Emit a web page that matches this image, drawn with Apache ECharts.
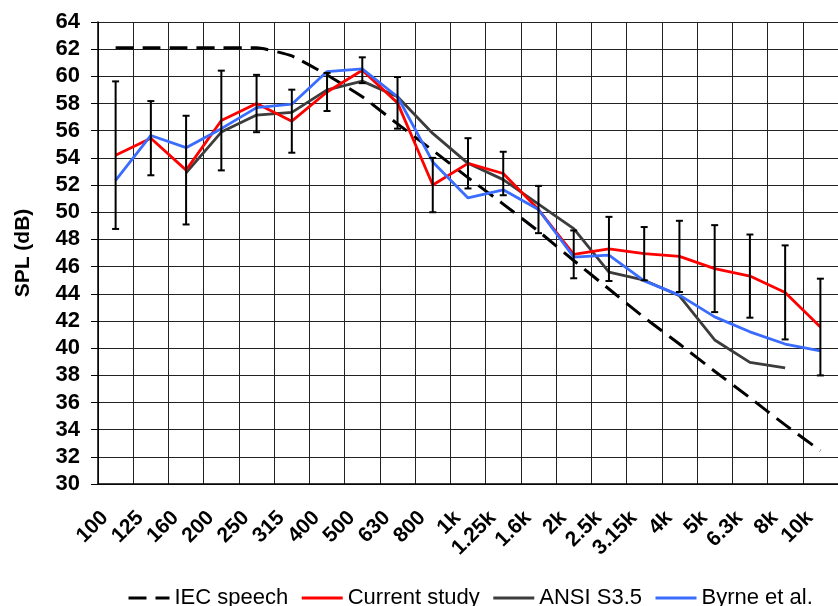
<!DOCTYPE html>
<html>
<head>
<meta charset="utf-8">
<title>Speech spectrum SPL by 1/3-octave band</title>
<script src="https://cdn.jsdelivr.net/npm/echarts@6/dist/echarts.min.js"></script>
<style>
  html, body { margin: 0; padding: 0; background: #fff; }
  #chart { width: 838px; height: 606px; }
</style>
</head>
<body>
<div id="chart"></div>
<script>
// 1/3-octave band centre frequencies (Hz)
const bands = ['100', '125', '160', '200', '250', '315', '400', '500', '630', '800',
  '1k', '1.25k', '1.6k', '2k', '2.5k', '3.15k', '4k', '5k', '6.3k', '8k', '10k'];

// Band levels, dB SPL
const iecSpeech = [62.1, 62.1, 62.1, 62.1, 62.1, 61.5, 60.1, 58.5, 56.5, 54.55,
  52.55, 50.6, 48.6, 46.45, 44.35, 42.25, 40.3, 38.3, 36.35, 34.35, 32.45];
const currentStudy = [54.2, 55.45, 53.1, 56.75, 58.0, 56.7, 58.85, 60.45, 58.05, 52.0,
  53.6, 52.85, 50.2, 46.9, 47.3, 46.95, 46.75, 45.85, 45.3, 44.1, 41.55];
const currentSD = [5.43, 2.73, 4.0, 3.67, 2.11, 2.32, 1.4, 0.95, 1.9, 2.0,
  1.85, 1.6, 1.74, 1.76, 2.36, 1.96, 2.62, 3.2, 3.06, 3.46, 3.56];
const ansiS35 = [null, null, 52.9, 55.9, 57.15, 57.35, 59.0, 59.65, 58.5, 55.8,
  53.6, 52.4, 50.6, 48.8, 45.6, 45.0, 43.85, 40.6, 38.95, 38.55, null];
const byrne = [52.35, 55.65, 54.75, 56.15, 57.7, 57.95, 60.35, 60.55, 58.5, 53.7,
  51.05, 51.65, 50.2, 46.7, 46.85, 44.95, 43.9, 42.3, 41.2, 40.3, 39.8];

// Error bar rows: [band index, low, high]
const errorRows = currentStudy.map((v, i) => [i, v - currentSD[i], v + currentSD[i]]);

const chart = echarts.init(document.getElementById('chart'), null, { renderer: 'canvas' });

const FONT = '"Liberation Sans", Arial, Helvetica, sans-serif';

chart.setOption({
  animation: false,
  backgroundColor: '#ffffff',
  grid: { left: 98, top: 22, width: 741, height: 462, containLabel: false },
  legend: {
    left: 127,
    top: 587,
    padding: 0,
    itemWidth: 41,
    itemHeight: 10,
    itemGap: 12,
    itemStyle: { opacity: 0 },
    lineStyle: { width: 3 },
    textStyle: { fontFamily: FONT, fontSize: 22, color: '#000' },
    data: ['IEC speech', 'Current study', 'ANSI S3.5', 'Byrne et al.']
  },
  xAxis: {
    type: 'category',
    data: bands,
    boundaryGap: true,
    axisLine: { show: true, lineStyle: { color: '#000', width: 1.5 } },
    axisTick: { show: false },
    splitLine: { show: true, lineStyle: { color: '#222', width: 1 } },
    axisLabel: {
      interval: 0,
      rotate: 45,
      margin: 20,
      padding: [0, 15, 0, 0],
      fontFamily: FONT,
      fontSize: 21,
      fontWeight: 'bold',
      color: '#000'
    }
  },
  yAxis: {
    type: 'value',
    min: 30,
    max: 64,
    interval: 2,
    name: 'SPL (dB)',
    nameLocation: 'middle',
    nameRotate: 90,
    nameGap: 64,
    nameTextStyle: { fontFamily: FONT, fontSize: 21, fontWeight: 'bold', color: '#000' },
    axisLine: { show: true, lineStyle: { color: '#000', width: 1.5 } },
    axisTick: { show: true, length: 7, lineStyle: { color: '#000', width: 1 } },
    splitLine: { show: true, lineStyle: { color: '#222', width: 1 } },
    axisLabel: {
      margin: 18,
      fontFamily: FONT,
      fontSize: 22,
      fontWeight: 'bold',
      color: '#000'
    }
  },
  series: [
    {
      name: 'IEC speech',
      type: 'line',
      data: iecSpeech,
      showSymbol: false,
      symbol: 'none',
      smooth: 0.15,
      lineStyle: { color: '#000', width: 3, type: [18, 9] },
      itemStyle: { color: '#000' },
      z: 3
    },
    {
      name: 'Current study',
      type: 'line',
      data: currentStudy,
      showSymbol: false,
      symbol: 'none',
      lineStyle: { color: '#ff0000', width: 2.8 },
      itemStyle: { color: '#ff0000' },
      z: 4
    },
    {
      name: 'ANSI S3.5',
      type: 'line',
      data: ansiS35,
      showSymbol: false,
      symbol: 'none',
      lineStyle: { color: '#3c3c3c', width: 2.8 },
      itemStyle: { color: '#3c3c3c' },
      z: 3
    },
    {
      name: 'Byrne et al.',
      type: 'line',
      data: byrne,
      showSymbol: false,
      symbol: 'none',
      lineStyle: { color: '#3a6cff', width: 2.8 },
      itemStyle: { color: '#3a6cff' },
      z: 4
    },
    {
      name: 'SD',
      type: 'custom',
      data: errorRows,
      encode: { x: 0, y: [1, 2] },
      z: 5,
      renderItem: function (params, api) {
        const i = api.value(0);
        const lo = api.coord([i, api.value(1)]);
        const hi = api.coord([i, api.value(2)]);
        const half = 3.5;
        const style = { stroke: '#000', lineWidth: 2 };
        return {
          type: 'group',
          children: [
            { type: 'line', shape: { x1: lo[0], y1: lo[1], x2: hi[0], y2: hi[1] }, style: style },
            { type: 'line', shape: { x1: hi[0] - half, y1: hi[1], x2: hi[0] + half, y2: hi[1] }, style: style },
            { type: 'line', shape: { x1: lo[0] - half, y1: lo[1], x2: lo[0] + half, y2: lo[1] }, style: style }
          ]
        };
      }
    }
  ]
});
</script>
</body>
</html>
